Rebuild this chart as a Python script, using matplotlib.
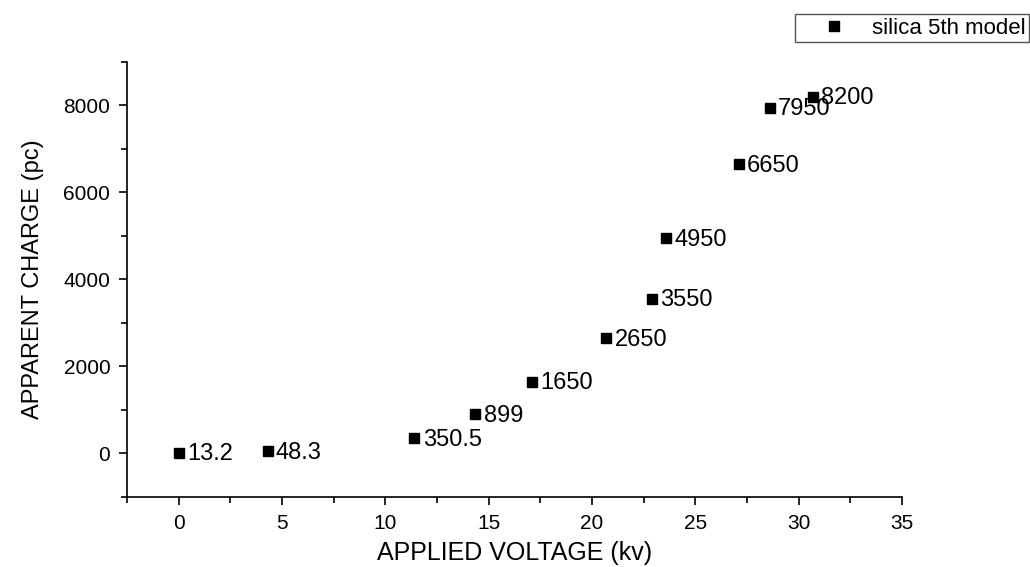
import matplotlib
matplotlib.use('Agg')
import matplotlib.pyplot as plt
from matplotlib.ticker import MultipleLocator

plt.rcParams['font.family'] = ['Liberation Sans', 'DejaVu Sans']

# applied voltage (kv) and apparent charge (pc)
voltage = [0, 4.3, 11.4, 14.35, 17.1, 20.7, 22.9, 23.6, 27.1, 28.6, 30.7]
charge = [13.2, 48.3, 350.5, 899, 1650, 2650, 3550, 4950, 6650, 7950, 8200]
point_labels = ['13.2', '48.3', '350.5', '899', '1650', '2650', '3550', '4950', '6650', '7950', '8200']

fig = plt.figure(figsize=(10.30, 5.67), dpi=100)
ax = fig.add_axes([0.1233, 0.1235, 0.7524, 0.7672])

ax.plot(voltage, charge, 's', color='black', markersize=7.8, linestyle='none',
        label='silica 5th model')

for x, y, t in zip(voltage, charge, point_labels):
    ax.annotate(t, (x, y), xytext=(6, -1), textcoords='offset points',
                ha='left', va='center', fontsize=17)

ax.set_xlim(-2.5, 35)
ax.set_ylim(-1000, 9000)
ax.xaxis.set_major_locator(MultipleLocator(5))
ax.xaxis.set_minor_locator(MultipleLocator(2.5))
ax.yaxis.set_major_locator(MultipleLocator(2000))
ax.yaxis.set_minor_locator(MultipleLocator(1000))

ax.spines['top'].set_visible(False)
ax.spines['right'].set_visible(False)
for s in ['left', 'bottom']:
    ax.spines[s].set_linewidth(1.2)
ax.tick_params(which='major', direction='out', length=6, width=1.2, labelsize=15, pad=6)
ax.tick_params(which='minor', direction='out', length=4, width=1.2)

ax.set_xlabel('APPLIED VOLTAGE (kv)', fontsize=18, labelpad=6)
ax.set_ylabel('APPARENT CHARGE (pc)', fontsize=17, labelpad=14)

leg = fig.legend(loc='upper right', bbox_to_anchor=(0.999, 0.975), fontsize=16,
                 fancybox=False, edgecolor='#555555', framealpha=1,
                 handletextpad=0.1, borderpad=0.15, handlelength=3.2,
                 borderaxespad=0)
leg.get_frame().set_linewidth(1.0)

plt.savefig('out.png', dpi=100)
